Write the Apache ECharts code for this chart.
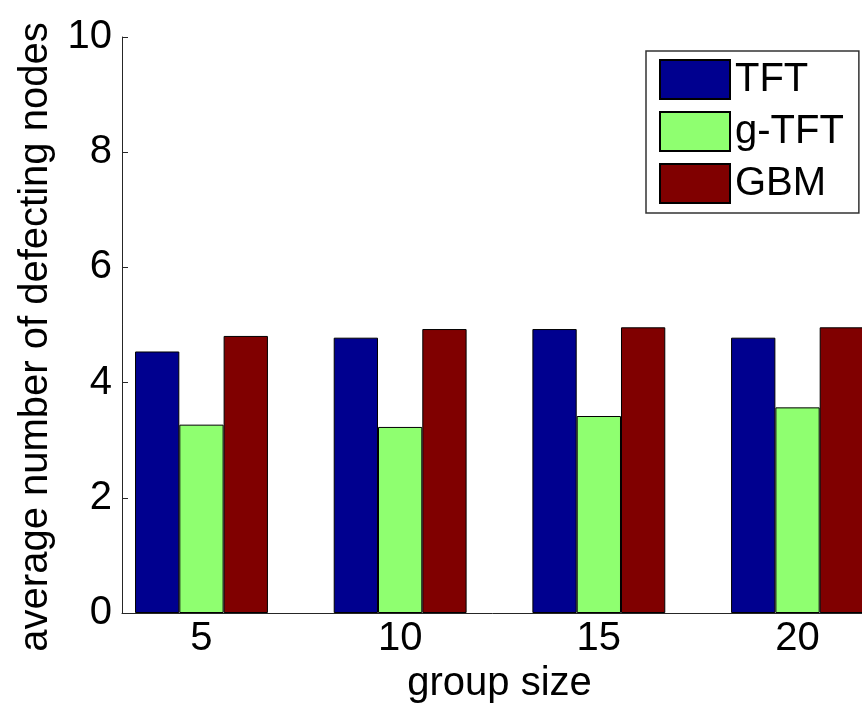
<!DOCTYPE html>
<html>
<head>
<meta charset="utf-8">
<script src="https://cdn.jsdelivr.net/npm/echarts@6/dist/echarts.min.js"></script>
<style>
html,body{margin:0;padding:0;background:#fff;}
#chart{width:862px;height:707px;}
</style>
</head>
<body>
<div id="chart"></div>
<script>
const groupSizes = [5, 10, 15, 20];
const tftValues = [4.54, 4.78, 4.93, 4.78];
const gtftValues = [3.27, 3.23, 3.42, 3.57];
const gbmValues = [4.81, 4.93, 4.96, 4.96];
const seriesNames = ['TFT', 'g-TFT', 'GBM'];
const yTicks = [0, 2, 4, 6, 8, 10];

const FONT = 'Liberation Sans, Arial, Helvetica, sans-serif';
const colors = ['#00008F', '#8FFF70', '#800000'];

function pairs(vals) { return groupSizes.map((g, i) => [g, vals[i]]); }

const chart = echarts.init(document.getElementById('chart'), null, {renderer: 'canvas'});
const allVals = [tftValues, gtftValues, gbmValues];
chart.setOption({
  animation: false,
  backgroundColor: '#ffffff',
  textStyle: {fontFamily: FONT},
  grid: {left: 122, top: 37, width: 755, height: 576, outerBoundsMode: 'none', containLabel: false},
  legend: {
    orient: 'vertical',
    left: 646, top: 51,
    padding: [8, 15, 9, 13],
    icon: 'rect',
    itemWidth: 70, itemHeight: 39, itemGap: 11,
    borderColor: '#333', borderWidth: 1.5, backgroundColor: '#fff',
    textStyle: {fontSize: 40, color: '#000', fontFamily: FONT},
    data: seriesNames
  },
  xAxis: {
    type: 'value', min: 3, max: 22,
    name: 'group size', nameLocation: 'middle', nameGap: 38,
    nameTextStyle: {fontSize: 40, color: '#000', fontFamily: FONT},
    axisLine: {show: true, onZero: false, lineStyle: {color: '#262626', width: 1}},
    axisTick: {show: false},
    splitLine: {show: false},
    axisLabel: {customValues: groupSizes, fontSize: 40, color: '#000', margin: 6, fontFamily: FONT}
  },
  yAxis: {
    type: 'value', min: 0, max: 10, interval: 2,
    name: 'average number of defecting nodes', nameLocation: 'middle', nameGap: 66,
    nameTextStyle: {fontSize: 40, color: '#000', fontFamily: FONT, padding: [0, 24, 0, 0]},
    axisLine: {show: true, lineStyle: {color: '#262626', width: 1}},
    axisTick: {show: true, inside: true, length: 6, lineStyle: {color: '#262626'}},
    splitLine: {show: false},
    axisLabel: {fontSize: 40, color: '#000', margin: 10, fontFamily: FONT,
      formatter: v => yTicks.includes(v) ? String(v) : ''}
  },
  series: seriesNames.map((n, i) => ({
    name: n, type: 'bar',
    data: pairs(allVals[i]),
    barWidth: 44.3, barGap: '0%',
    itemStyle: {color: colors[i], borderColor: '#000', borderWidth: 1}
  }))
});
</script>
</body>
</html>
